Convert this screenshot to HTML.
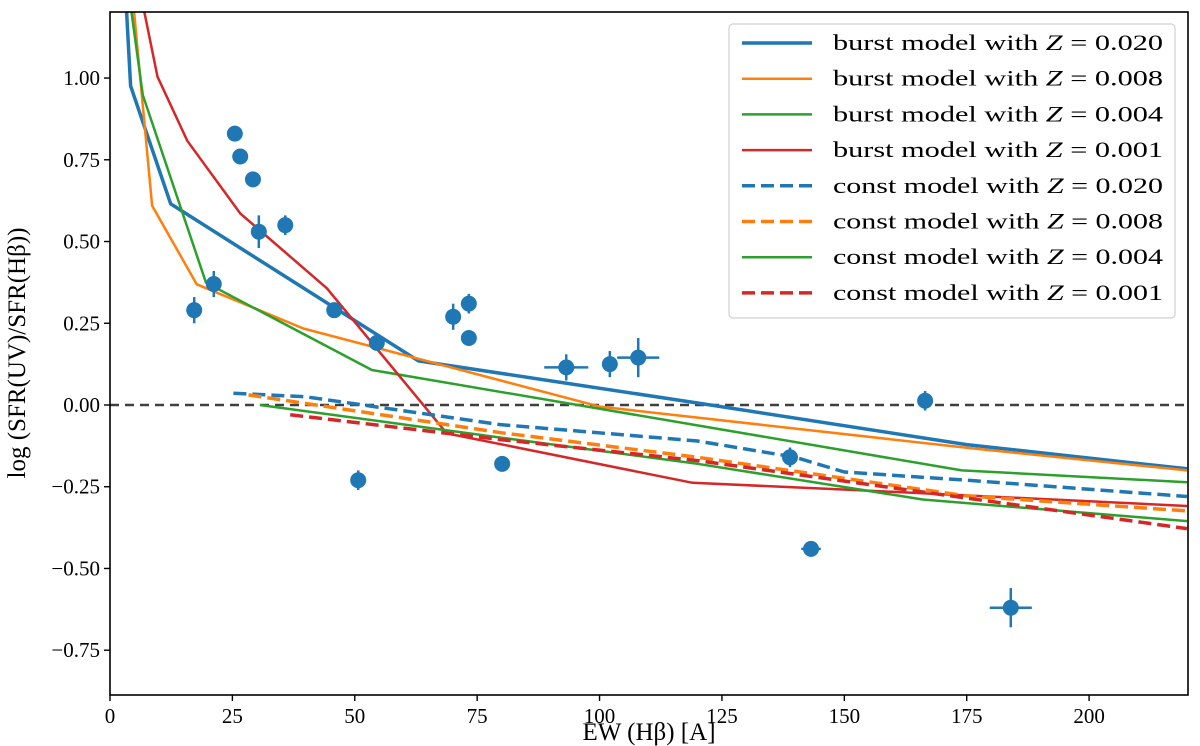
<!DOCTYPE html>
<html><head><meta charset="utf-8"><style>
html,body{margin:0;padding:0;background:#fff;}
svg{display:block;}
text{font-family:"Liberation Serif","DejaVu Serif",serif;}
</style></head><body>
<svg id="chart" width="1200" height="746" viewBox="0 0 1200 746" xmlns="http://www.w3.org/2000/svg">
<rect x="0" y="0" width="1200" height="746" fill="#fff"/>
<g id="plot"></g>
<g id="axes"></g>
<g id="legend"></g>
</svg>
<script>
const xTicks=[0,25,50,75,100,125,150,175,200];
const yTicks=[-0.75,-0.5,-0.25,0,0.25,0.5,0.75,1.0];
const yTickLabels=["\u22120.75","\u22120.50","\u22120.25","0.00","0.25","0.50","0.75","1.00"];
const obsX=[17.2,21.2,25.5,26.6,29.2,30.4,35.8,45.8,54.5,50.7,70.1,73.3,73.3,80.1,93.2,102.1,107.9,138.9,143.2,166.5,184.0];
const obsY=[0.29,0.37,0.83,0.76,0.69,0.53,0.55,0.29,0.19,-0.23,0.27,0.31,0.205,-0.18,0.115,0.125,0.145,-0.16,-0.44,0.013,-0.62];
const obsXerr=[0.5,0.5,0.5,0.5,0.5,0.5,0.5,0.5,0.5,0.5,0.5,0.5,0.5,0.5,4.5,1.0,4.3,1.5,2.0,1.5,4.3];
const obsYerr=[0.04,0.04,0.02,0.02,0.02,0.05,0.03,0.02,0.02,0.03,0.04,0.03,0.02,0.02,0.04,0.04,0.06,0.03,0.01,0.03,0.06];
const burst020X=[3.0,4.2,12.4,45.6,63,120,175,220];
const burst020Y=[1.31,0.976,0.615,0.30,0.135,0.006,-0.121,-0.195];
const burst008X=[4.0,8.6,17.7,39.5,100,175,220];
const burst008Y=[1.35,0.61,0.369,0.234,-0.005,-0.131,-0.20];
const burst004X=[3.5,6.7,19.6,53.5,174,220];
const burst004Y=[1.3,0.948,0.374,0.107,-0.20,-0.236];
const burst001X=[5.0,9.7,15.8,26.6,44.3,68.8,119,152,220];
const burst001Y=[1.35,1.004,0.808,0.586,0.357,-0.087,-0.238,-0.26,-0.309];
const const020X=[25.2,40,79.7,120,140,150,175,220];
const const020Y=[0.036,0.025,-0.06,-0.11,-0.16,-0.205,-0.23,-0.28];
const const008X=[28.3,80,120,175,220];
const const008Y=[0.031,-0.085,-0.16,-0.278,-0.324];
const const004X=[30.6,80,120,166,220];
const const004Y=[0.0,-0.10,-0.18,-0.289,-0.355];
const const001X=[36.8,80,120,166,220];
const const001Y=[-0.03,-0.106,-0.17,-0.266,-0.378];

const L=110,R=1188,T=12,B=695,XMIN=0,XMAX=220.2,YMIN=-0.887,YMAX=1.202;
const sx=v=>L+(v-XMIN)/(XMAX-XMIN)*(R-L);
const sy=v=>B-(v-YMIN)/(YMAX-YMIN)*(B-T);
const NS="http://www.w3.org/2000/svg";
function mk(tag,attrs,parent){const e=document.createElementNS(NS,tag);for(const k in attrs)e.setAttribute(k,attrs[k]);parent.appendChild(e);return e;}
const plot=document.getElementById('plot'),axes=document.getElementById('axes'),legend=document.getElementById('legend');
const defs=mk('defs',{},plot);
const cp=mk('clipPath',{id:'clip'},defs);mk('rect',{x:L,y:T,width:R-L,height:B-T},cp);
const g=mk('g',{'clip-path':'url(#clip)'},plot);

const zl=mk('line',{x1:L,x2:R,y1:sy(0),y2:sy(0),stroke:'#404040','stroke-width':2.5,'stroke-dasharray':'9,6'},g);



const series=[
 {x:burst020X,y:burst020Y,c:'#1f77b4',w:3.5,d:null,n:'burst-z020-line'},
 {x:burst008X,y:burst008Y,c:'#ff7f0e',w:2.5,d:null,n:'burst-z008-line'},
 {x:burst004X,y:burst004Y,c:'#2ca02c',w:2.5,d:null,n:'burst-z004-line'},
 {x:burst001X,y:burst001Y,c:'#d62728',w:2.5,d:null,n:'burst-z001-line'},
 {x:const020X,y:const020Y,c:'#1f77b4',w:3.5,d:'13,6',n:'const-z020-line'},
 {x:const008X,y:const008Y,c:'#ff7f0e',w:3.5,d:'13,6',n:'const-z008-line'},
 {x:const004X,y:const004Y,c:'#2ca02c',w:2.5,d:null,n:'const-z004-line'},
 {x:const001X,y:const001Y,c:'#d62728',w:3.5,d:'13,6',n:'const-z001-line'}
];
series.forEach(s=>{
 const pts=s.x.map((v,i)=>sx(v).toFixed(1)+','+sy(s.y[i]).toFixed(1)).join(' ');
 const a={points:pts,fill:'none',stroke:s.c,'stroke-width':s.w,'stroke-linejoin':'round'};
 if(s.d)a['stroke-dasharray']=s.d;
 const p=mk('polyline',a,g);
 
 
});
obsX.forEach((v,i)=>{
 const cx=sx(v),cy=sy(obsY[i]);
 const gg=mk('g',{},g);
 
 
 mk('line',{x1:sx(v-obsXerr[i]),x2:sx(v+obsXerr[i]),y1:cy,y2:cy,stroke:'#1f77b4','stroke-width':2.5},gg);
 mk('line',{x1:cx,x2:cx,y1:sy(obsY[i]-obsYerr[i]),y2:sy(obsY[i]+obsYerr[i]),stroke:'#1f77b4','stroke-width':2.5},gg);
 mk('circle',{cx:cx,cy:cy,r:8,fill:'#1f77b4'},gg);
});

const fr=mk('rect',{x:L,y:T,width:R-L,height:B-T,fill:'none',stroke:'#000','stroke-width':1.6},axes);


xTicks.forEach(v=>{
 mk('line',{x1:sx(v),x2:sx(v),y1:B,y2:B+6,stroke:'#000','stroke-width':1.4},axes);
 const t=mk('text',{x:sx(v),y:B+28,'font-size':21,'text-anchor':'middle',fill:'#000'},axes);
 t.textContent=String(v);
 
 
});
yTicks.forEach((v,i)=>{
 mk('line',{x1:L-6,x2:L,y1:sy(v),y2:sy(v),stroke:'#000','stroke-width':1.4},axes);
 const t=mk('text',{x:L-10,y:sy(v)+7,'font-size':21,'text-anchor':'end',fill:'#000'},axes);
 t.textContent=yTickLabels[i];
 
 
});
const xl=mk('text',{x:649,y:740,'font-size':25,'text-anchor':'middle',fill:'#000'},axes);
xl.textContent='EW (H\u03b2) [A]';


const yl=mk('text',{x:0,y:0,'font-size':25,'text-anchor':'middle',fill:'#000',transform:'translate(25,353) rotate(-90)'},axes);
yl.textContent='log (SFR(UV)/SFR(H\u03b2))';



const lb=mk('rect',{x:729,y:24,width:446,height:294,rx:4,fill:'#fff','fill-opacity':0.85,stroke:'#d0d0d0','stroke-width':1.2},legend);


const legLabels=['burst model with ','burst model with ','burst model with ','burst model with ','const model with ','const model with ','const model with ','const model with '];
const legZ=['0.020','0.008','0.004','0.001','0.020','0.008','0.004','0.001'];
series.forEach((s,i)=>{
 const y=43+i*35.7;
 const ge=mk('g',{},legend);
 
 
 const a={x1:742,x2:812,y1:y,y2:y,stroke:s.c,'stroke-width':s.w};
 if(s.d)a['stroke-dasharray']='13,6';
 mk('line',a,ge);
 const t=mk('text',{x:833,y:y+7,'font-size':22,fill:'#000',textLength:330,lengthAdjust:'spacingAndGlyphs'},ge);
 const t1=mk('tspan',{},t);t1.textContent=legLabels[i];
 const t2=mk('tspan',{'font-style':'italic'},t);t2.textContent='Z';
 const t3=mk('tspan',{},t);t3.textContent=' = '+legZ[i];
});
</script>
</body></html>
